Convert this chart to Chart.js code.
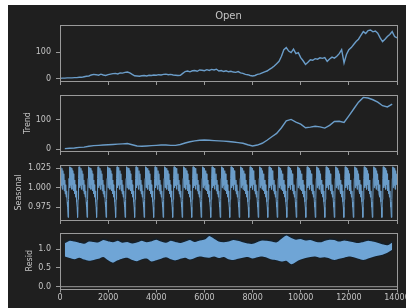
<!DOCTYPE html>
<html>
<head>
<meta charset="utf-8">
<script src="https://cdn.jsdelivr.net/npm/chart.js@4.4.1/dist/chart.umd.min.js"></script>
<style>
  html, body { margin: 0; padding: 0; background: #ffffff; }
  #wrap {
    position: absolute; left: 8px; top: 5px;
    width: 398px; height: 303px;
    background: #1f1f1f; overflow: hidden;
  }
  #wrap canvas { position: absolute; left: 0; }
</style>
</head>
<body>
<div id="wrap">
  <canvas id="openChart" width="398" height="82" style="top:0px"></canvas>
  <canvas id="trendChart" width="398" height="70" style="top:82px"></canvas>
  <canvas id="seasonalChart" width="398" height="69" style="top:152px"></canvas>
  <canvas id="residChart" width="398" height="83" style="top:220px"></canvas>
</div>
<script>
/* ======================
   DATA
====================== */
const xTicks = [0, 2000, 4000, 6000, 8000, 10000, 12000, 14000];

// observed series, one value every 100 steps
const openStep = 100;
const openValues = [
  1, 2, 2, 3, 3, 3, 4, 4, 5, 5,
  7, 9, 10, 14, 16, 15, 13, 17, 14, 12,
  15, 17, 19, 20, 18, 22, 21, 24, 25, 22,
  16, 11, 10, 9, 11, 12, 10, 13, 12, 14,
  13, 15, 14, 16, 17, 15, 16, 14, 13, 12,
  13, 20, 27, 29, 26, 30, 31, 28, 33, 32,
  30, 34, 31, 35, 33, 36, 29, 31, 27, 30,
  26, 28, 25, 24, 27, 22, 20, 16, 15, 12,
  10, 12, 16, 18, 22, 26, 29, 35, 41, 48,
  57, 66, 85, 110, 118, 105, 99, 112, 95, 99,
  80, 68, 54, 62, 72, 70, 76, 74, 79, 77,
  80, 66, 75, 82, 78, 85, 95, 110, 60, 92,
  110, 118, 130, 141, 150, 165, 179, 172, 183, 185,
  178, 181, 173, 155, 141, 150, 160, 168, 179, 160,
  155
];

// trend, one value every 200 steps starting at 200
const trendStart = 200;
const trendStep = 200;
const trendValues = [
  2, 3, 4, 6, 7, 10, 12, 13, 14, 15,
  16, 17, 18, 19, 15, 11, 10, 11, 12, 13,
  14, 14, 13, 13, 16, 21, 25, 28, 30, 31,
  30, 29, 28, 27, 26, 24, 22, 20, 15, 11,
  14, 20, 30, 42, 53, 72, 95, 100, 91, 84,
  72, 74, 77, 75, 71, 80, 93, 94, 90, 112,
  135, 158, 174, 172, 166, 158, 146, 142, 151
];

// one seasonal cycle, repeated along the whole index
const seasonalPeriod = 395;
const seasonalEnd = 13990;
const seasonalCycle = [
  1.027, 1.000, 1.026, 1.003, 1.025, 0.998, 1.022, 1.004, 1.018, 0.996,
  1.010, 0.992, 1.004, 0.988, 0.996, 0.982, 0.975, 0.962, 0.985, 1.012
];

// residual cloud: upper and lower edge, every 200 steps starting at 200
const residStart = 200;
const residStep = 200;
const residUpper = [
  1.18, 1.24, 1.22, 1.19, 1.16, 1.22, 1.21, 1.20, 1.26, 1.23,
  1.20, 1.24, 1.19, 1.21, 1.17, 1.20, 1.24, 1.20, 1.23, 1.27,
  1.22, 1.19, 1.24, 1.21, 1.18, 1.22, 1.26, 1.21, 1.25, 1.27,
  1.37, 1.30, 1.22, 1.20, 1.22, 1.26, 1.24, 1.20, 1.17, 1.16,
  1.21, 1.25, 1.24, 1.22, 1.20, 1.30, 1.38, 1.32, 1.27, 1.29,
  1.25, 1.26, 1.22, 1.20, 1.24, 1.27, 1.26, 1.22, 1.25, 1.23,
  1.20, 1.18, 1.21, 1.24, 1.22, 1.19, 1.15, 1.12, 1.20
];
const residLower = [
  0.80, 0.76, 0.73, 0.77, 0.72, 0.69, 0.71, 0.74, 0.79, 0.70,
  0.64, 0.70, 0.75, 0.77, 0.71, 0.68, 0.73, 0.75, 0.67, 0.70,
  0.74, 0.78, 0.73, 0.70, 0.74, 0.77, 0.72, 0.76, 0.80, 0.78,
  0.77, 0.80, 0.76, 0.79, 0.73, 0.71, 0.74, 0.77, 0.79, 0.75,
  0.78, 0.80, 0.77, 0.72, 0.70, 0.67, 0.69, 0.60, 0.66, 0.72,
  0.76, 0.79, 0.80, 0.77, 0.78, 0.75, 0.71, 0.74, 0.77, 0.80,
  0.78, 0.74, 0.71, 0.75, 0.79, 0.82, 0.85, 0.90, 0.98
];

const openTicks = [0, 100];
const trendTicks = [0, 100];
const seasonalTicks = [0.975, 1.000, 1.025];
const residTicks = [0.0, 0.5, 1.0];

/* ======================
   STYLE
====================== */
const TEXT = "#c4c4c4";
const SPINE = "#9a9a9a";
const LINE = "#6b9dc9";
const BAND = "#6fa5d6";
const BAND_EDGE = "#15202a";

Chart.defaults.font.family = "'DejaVu Sans', sans-serif";
Chart.defaults.font.size = 8;
Chart.defaults.color = TEXT;

/* ---------- helpers ---------- */
function toPoints(values, start, step) {
  return values.map((v, i) => ({ x: start + i * step, y: v }));
}

function seasonalPoints() {
  const pts = [];
  const n = seasonalCycle.length;
  for (let c = 0; c * seasonalPeriod < seasonalEnd; c++) {
    seasonalCycle.forEach((v, j) => {
      const x = c * seasonalPeriod + j * seasonalPeriod / n;
      if (x <= seasonalEnd) pts.push({ x, y: v });
    });
  }
  return pts;
}

const framePlugin = {
  id: "frame",
  afterDraw(chart) {
    const { ctx, chartArea: a } = chart;
    ctx.save();
    ctx.strokeStyle = SPINE;
    ctx.lineWidth = 1;
    ctx.strokeRect(
      Math.round(a.left) + 0.5, Math.round(a.top) + 0.5,
      Math.round(a.right - a.left), Math.round(a.bottom - a.top)
    );
    ctx.restore();
  }
};

function makeOptions(cfg) {
  return {
    responsive: false,
    animation: false,
    layout: { padding: { top: cfg.padTop, right: 9, left: 0, bottom: 0 } },
    plugins: {
      legend: { display: false },
      tooltip: { enabled: false },
      title: cfg.title ? {
        display: true,
        text: cfg.title,
        color: TEXT,
        fullSize: false,
        font: { size: 10, weight: "normal" },
        padding: { top: 5.5, bottom: 2.5 }
      } : { display: false }
    },
    scales: {
      x: {
        type: "linear",
        min: 0,
        max: 14000,
        afterBuildTicks: s => { s.ticks = xTicks.map(v => ({ value: v })); },
        afterFit: s => { s.height = cfg.xAxisH; s.paddingLeft = 0; s.paddingRight = 0; },
        border: { display: false },
        grid: { drawOnChartArea: false, drawTicks: true, tickLength: 4, color: SPINE },
        ticks: {
          display: cfg.showX,
          color: TEXT,
          padding: 1,
          maxRotation: 0,
          autoSkip: false,
          callback: v => String(v)
        }
      },
      y: {
        type: "linear",
        min: cfg.yMin,
        max: cfg.yMax,
        afterBuildTicks: s => { s.ticks = cfg.yTicks.map(v => ({ value: v })); },
        afterFit: s => { s.width = 52; s.paddingTop = 0; s.paddingBottom = 0; },
        border: { display: false },
        grid: { drawOnChartArea: false, drawTicks: true, tickLength: 4, color: SPINE },
        ticks: { color: TEXT, padding: 5, callback: v => cfg.fmt(v) },
        title: {
          display: !!cfg.yTitle,
          text: cfg.yTitle || "",
          color: TEXT,
          font: { size: 8 },
          padding: { top: cfg.yTitlePad || 0, bottom: 0 }
        }
      }
    }
  };
}

function lineSet(data, width) {
  return {
    data,
    borderColor: LINE,
    borderWidth: width,
    pointRadius: 0,
    tension: 0,
    fill: false
  };
}

/* ======================
   CHARTS
====================== */
new Chart(document.getElementById("openChart"), {
  type: "line",
  data: { datasets: [lineSet(toPoints(openValues, 0, openStep), 1.4)] },
  options: makeOptions({
    padTop: 0, xAxisH: 6, showX: false, title: "Open",
    yMin: -9, yMax: 204, yTicks: openTicks, fmt: v => String(v)
  }),
  plugins: [framePlugin]
});

new Chart(document.getElementById("trendChart"), {
  type: "line",
  data: { datasets: [lineSet(toPoints(trendValues, trendStart, trendStep), 1.4)] },
  options: makeOptions({
    padTop: 8, xAxisH: 6, showX: false,
    yMin: -6, yMax: 182, yTicks: trendTicks, fmt: v => String(v),
    yTitle: "Trend", yTitlePad: 15.2
  }),
  plugins: [framePlugin]
});

new Chart(document.getElementById("seasonalChart"), {
  type: "line",
  data: { datasets: [lineSet(seasonalPoints(), 1)] },
  options: makeOptions({
    padTop: 8, xAxisH: 6, showX: false,
    yMin: 0.9587, yMax: 1.0292, yTicks: seasonalTicks, fmt: v => v.toFixed(3),
    yTitle: "Seasonal", yTitlePad: 6.2
  }),
  plugins: [framePlugin]
});

new Chart(document.getElementById("residChart"), {
  type: "line",
  data: {
    datasets: [
      {
        data: toPoints(residUpper, residStart, residStep),
        borderColor: BAND_EDGE,
        borderWidth: 1.5,
        backgroundColor: BAND,
        pointRadius: 0,
        tension: 0.3,
        fill: "+1"
      },
      {
        data: toPoints(residLower, residStart, residStep),
        borderColor: BAND_EDGE,
        borderWidth: 1.5,
        pointRadius: 0,
        tension: 0.3,
        fill: false
      },
      {
        data: [{ x: 0, y: 0 }, { x: 14000, y: 0 }],
        borderColor: SPINE,
        borderWidth: 1,
        pointRadius: 0,
        fill: false
      }
    ]
  },
  options: makeOptions({
    padTop: 8, xAxisH: 19.5, showX: true,
    yMin: -0.048, yMax: 1.428, yTicks: residTicks, fmt: v => v.toFixed(1),
    yTitle: "Resid", yTitlePad: 17.2
  }),
  plugins: [framePlugin]
});
</script>
</body>
</html>
